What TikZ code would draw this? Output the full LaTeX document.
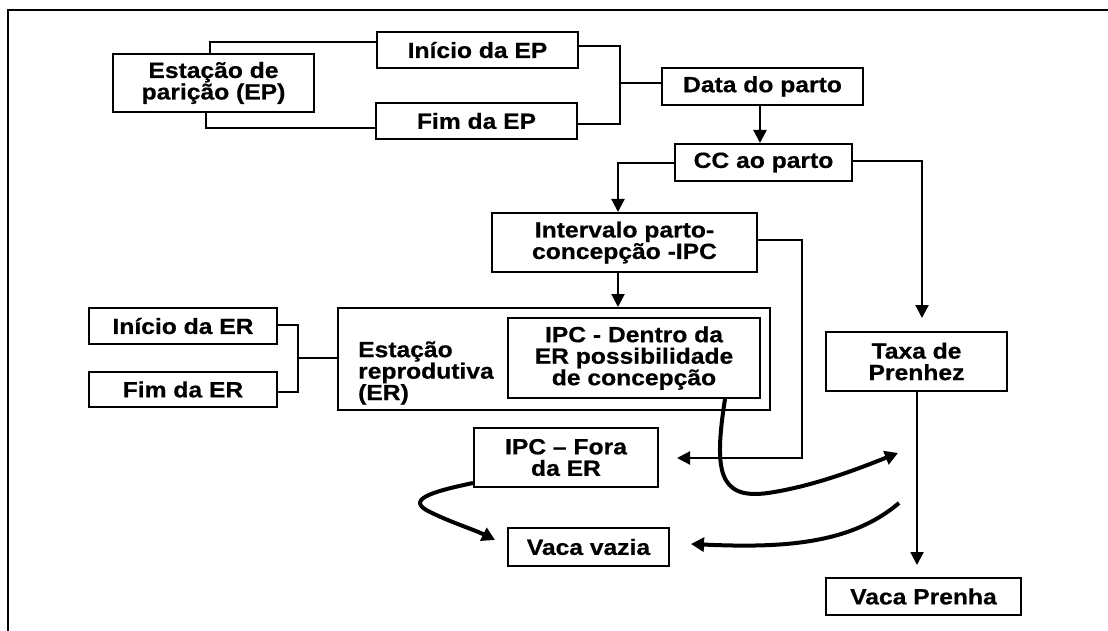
\documentclass[tikz,border=0pt]{standalone}
\usepackage{fontspec}
\setmainfont{Liberation Sans}[FakeStretch=1.12,BoldFeatures={FakeBold=0.6}]
\usetikzlibrary{arrows.meta}
\begin{document}
\begin{tikzpicture}[x=1pt,y=-1pt,
  box/.style={draw,line width=2pt,inner sep=0pt,align=center,
    font=\fontsize{22}{21.5}\selectfont\bfseries},
  lbl/.style={inner sep=0pt,align=left,font=\fontsize{22}{21.5}\selectfont\bfseries},
  conn/.style={line width=2.2pt},
  arr/.style={line width=2.2pt,-{Triangle[length=13pt,width=13pt]}},
  carr/.style={line width=4pt,-{Triangle[length=13pt,width=14pt]}}]
\useasboundingbox (0,0) rectangle (1108,631);
\draw[line width=2.8pt] (8,631) -- (8,10) -- (1108,10);

\node[box,minimum width=201pt,minimum height=58pt] (ep) at (213.5,83) {Estação de\\parição (EP)};
\node[box,minimum width=201pt,minimum height=36pt] (iep) at (477.5,50) {Início da EP};
\node[box,minimum width=201pt,minimum height=36pt] (fep) at (476.5,121) {Fim da EP};
\node[box,minimum width=201pt,minimum height=37pt] (data) at (762.5,86.5) {Data do parto};
\node[box,minimum width=177pt,minimum height=37pt] (cc) at (763.5,162.5) {CC ao parto};
\node[box,minimum width=265pt,minimum height=59pt] (ipc) at (624.5,242.5) {Intervalo parto-\\concepção -IPC};
\node[box,minimum width=432pt,minimum height=102pt] (er) at (554,359) {};
\node[lbl,anchor=west] (erl) at (358,373) {Estação\\reprodutiva\\(ER)};
\node[box,minimum width=252pt,minimum height=80pt] (dentro) at (634,358) {IPC - Dentro da\\ER possibilidade\\de concepção};
\node[box,minimum width=188pt,minimum height=36pt] (ier) at (183,326) {Início da ER};
\node[box,minimum width=188pt,minimum height=35pt] (fer) at (183,389.5) {Fim da ER};
\node[box,minimum width=184pt,minimum height=59pt] (fora) at (566,457.5) {IPC -- Fora\\da ER};
\node[box,minimum width=161pt,minimum height=38pt] (vazia) at (588.5,547) {Vaca vazia};
\node[box,minimum width=181pt,minimum height=59pt] (taxa) at (916.5,361.5) {Taxa de\\Prenhez};
\node[box,minimum width=195pt,minimum height=37pt] (prenha) at (923.5,596.5) {Vaca Prenha};

% EP connectors
\draw[conn] (ep.north -| 210,0) -- (210,42) -- (iep.west |- 0,42);
\draw[conn] (ep.south -| 206,0) -- (206,128) -- (fep.west |- 0,128);
\coordinate (j1) at (620,83);
\draw[conn] (iep.east |- 0,46) -- (620,46) -- (620,124) -- (fep.east |- 0,124);
\draw[conn] (j1) -- (data.west |- j1);
\draw[arr] (data.south -| 760,0) -- (cc.north -| 760,0);
\draw[arr] (cc.west |- 0,163) -- (618,163) -- (ipc.north -| 618,0);
\coordinate (taxatop) at (922,318);
\draw[arr] (cc.east |- 0,161) -- (922,161) -- (taxatop);
\draw[arr] (ipc.south -| 618,0) -- (er.north -| 618,0);
\coordinate (foraend) at (677,458);
\draw[arr] (ipc.east |- 0,240) -- (802,240) -- (802,458) -- (foraend);
% ER connectors
\draw[conn] (ier.east |- 0,325) -- (298,325) -- (298,392) -- (fer.east |- 0,392);
\draw[conn] (298,358) -- (er.west |- 0,358);
\coordinate (prenhatop) at (917,565);
\draw[arr] (taxa.south -| 917,0) -- (prenhatop);
% curved arrows
\coordinate (c1end) at (898,453);
\coordinate (c2start) at (899,503);
\coordinate (c2end) at (691,544);
\coordinate (c3end) at (495,540);
\draw[carr] (dentro.south -| 725,0) .. controls (714,470) and (718,500) .. (768,493)
  .. controls (815,486) and (860,468) .. (c1end);
\draw[carr] (c2start) .. controls (850,545) and (780,548) .. (c2end);
\draw[carr] (fora.south west) ++(0,-5) .. controls (430,492) and (405,500) .. (430,512)
  .. controls (450,522) and (475,530) .. (c3end);
\end{tikzpicture}
\end{document}
